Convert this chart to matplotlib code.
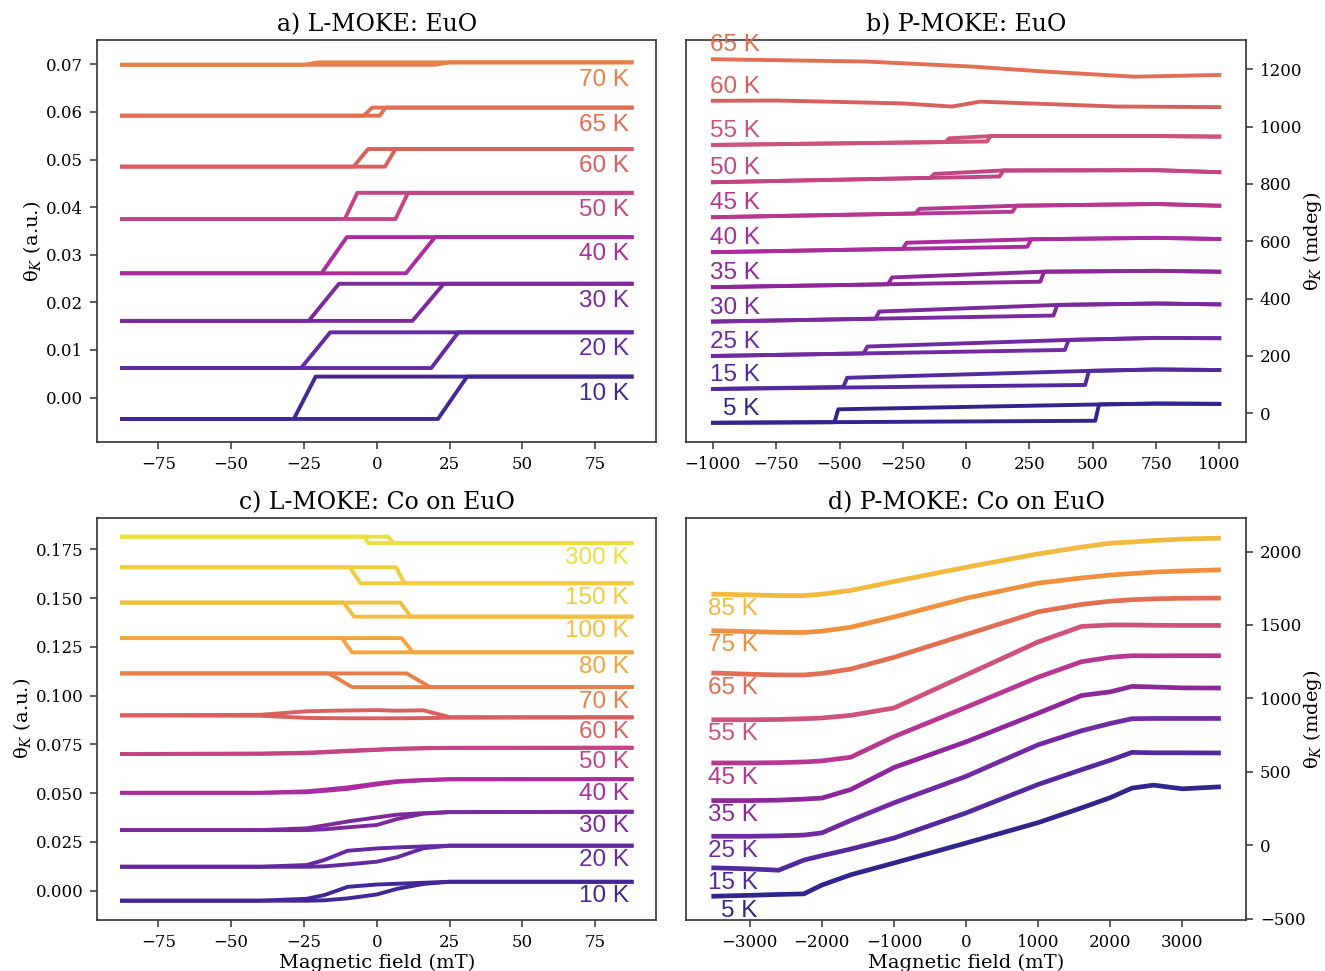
import colorsys
import matplotlib
matplotlib.use('Agg')
import matplotlib.pyplot as plt

plt.rcParams['font.family'] = ['DejaVu Serif']
plt.rcParams['mathtext.fontset'] = 'dejavuserif'
plt.rcParams['axes.edgecolor'] = '#333333'
plt.rcParams['axes.linewidth'] = 1.2

# ---------------- a) L-MOKE: EuO  (square loops) ----------------
a_temps = [10, 20, 30, 40, 50, 60, 65, 70]
a_low = [-0.0045, 0.0062, 0.0161, 0.0261, 0.0375, 0.0485, 0.0592, 0.0699]
a_high = [0.0044, 0.0137, 0.0239, 0.0337, 0.0430, 0.0522, 0.0609, 0.0704]
a_down_start = [-21.0, -16.0, -13.0, -10.3, -6.7, -3.0, -1.6, -20.0]
a_down_end = [-28.5, -26.0, -23.4, -19.0, -11.0, -8.0, -4.5, -25.0]
a_up_start = [21.0, 18.7, 12.2, 10.0, 6.4, 2.8, 1.0, 20.0]
a_up_end = [31.0, 28.0, 23.0, 20.0, 10.7, 6.4, 3.0, 25.0]
a_field_max = 87.5

# ---------------- b) P-MOKE: EuO ----------------
b_temps = [5, 15, 25, 30, 35, 40, 45, 50, 55]
b_low_left = [-33, 85, 200, 320, 440, 562, 684, 806, 936]
b_low_at_up = [-26, 99, 221, 341, 459, 581, 703, 826, 948]
b_hc_up = [510, 470, 390, 345, 293, 242, 183, 132, 82]
b_hc_down = [-505, -470, -390, -343, -293, -235, -185, -126, -67]
b_upper_at_down = [14, 124, 233, 355, 474, 595, 713, 835, 959]
b_lower_at_down = [-31, 92, 209, 330, 450, 574, 697, 821, 946]
b_upper_at_up = [31, 148, 256, 378, 494, 607, 724, 847, 967]
b_at_750 = [34, 153, 263, 383, 497, 612, 730, 848, 967]
b_right = [33, 151, 262, 380, 494, 608, 724, 841, 965]
b_field_max = 1000

b_rev_temps = [60, 65]
b_rev_fields = [[-1000, -750, -255, -56, 56, 593, 1000],
                [-1000, -396, 28, 311, 664, 1000]]
b_rev_values = [[1090, 1091, 1081, 1070, 1087, 1070, 1068],
                [1235, 1227, 1209, 1192, 1174, 1180]]

# ---------------- c) L-MOKE: Co on EuO ----------------
c_grid = [-87.5, -40, -24, -18, -10, 0, 7, 16, 25, 87.5]
c_temps = [10, 20, 30, 40, 50, 60]
c_descending = [
    [-0.0051, -0.0051, -0.0041, -0.0022, 0.0020, 0.0032, 0.0036, 0.0041, 0.0046, 0.0046],
    [0.0123, 0.0123, 0.0132, 0.0158, 0.0205, 0.0217, 0.0222, 0.0227, 0.0231, 0.0231],
    [0.0311, 0.0311, 0.0320, 0.0335, 0.0355, 0.0376, 0.0390, 0.0398, 0.0403, 0.0405],
    [0.0502, 0.0502, 0.0510, 0.0518, 0.0530, 0.0550, 0.0562, 0.0568, 0.0572, 0.0572],
    [0.0701, 0.0703, 0.0708, 0.0712, 0.0718, 0.0724, 0.0728, 0.0731, 0.0733, 0.0733],
    [0.0899, 0.0902, 0.0920, 0.0922, 0.0924, 0.0926, 0.0923, 0.0925, 0.0890, 0.0889],
]
c_ascending = [
    [-0.0051, -0.0051, -0.0051, -0.0049, -0.0039, -0.0019, 0.0010, 0.0035, 0.0046, 0.0046],
    [0.0123, 0.0123, 0.0123, 0.0125, 0.0135, 0.0149, 0.0172, 0.0218, 0.0231, 0.0231],
    [0.0311, 0.0311, 0.0311, 0.0315, 0.0325, 0.0337, 0.0368, 0.0395, 0.0403, 0.0405],
    [0.0502, 0.0502, 0.0505, 0.0512, 0.0522, 0.0545, 0.0558, 0.0566, 0.0571, 0.0572],
    [0.0701, 0.0702, 0.0705, 0.0709, 0.0715, 0.0722, 0.0727, 0.0730, 0.0732, 0.0733],
    [0.0899, 0.0897, 0.0886, 0.0885, 0.0884, 0.0884, 0.0884, 0.0885, 0.0887, 0.0889],
]
c_step_temps = [70, 80, 100, 150, 300]
c_step_high = [0.1114, 0.1295, 0.1477, 0.1658, 0.1815]
c_step_low = [0.1044, 0.1222, 0.1405, 0.1576, 0.1782]
c_fall_start = [10.3, 8.5, 8.1, 6.6, 3.8]
c_fall_end = [18.2, 12.4, 11.7, 9.5, 5.9]
c_rise_start = [-8.5, -8.5, -7.8, -5.6, -3.0]
c_rise_end = [-16.5, -12.0, -11.4, -9.3, -4.2]
c_field_max = 87.5

# ---------------- d) P-MOKE: Co on EuO ----------------
d_grid = [-3500, -3000, -2600, -2250, -2000, -1600, -1000, 0, 1000, 1600, 2000, 2300, 2600, 3000, 3500]
d_temps = [5, 15, 25, 35, 45, 55, 65, 75, 85]
d_values = [
    [-346, -340, -334, -330, -270, -200, -120, 16, 155, 255, 325, 390, 410, 385, 398],
    [-153, -160, -169, -100, -70, -25, 50, 221, 415, 515, 580, 633, 630, 630, 629],
    [62, 62, 65, 70, 85, 170, 290, 470, 685, 780, 830, 862, 864, 864, 864],
    [305, 305, 308, 315, 322, 380, 530, 705, 900, 1020, 1045, 1082, 1078, 1072, 1071],
    [561, 561, 563, 568, 575, 600, 740, 940, 1145, 1250, 1280, 1291, 1290, 1291, 1291],
    [855, 855, 857, 862, 867, 885, 935, 1160, 1385, 1490, 1500, 1500, 1498, 1497, 1497],
    [1173, 1165, 1160, 1160, 1170, 1200, 1280, 1435, 1590, 1640, 1662, 1672, 1678, 1682, 1683],
    [1461, 1455, 1450, 1449, 1458, 1485, 1555, 1682, 1785, 1820, 1840, 1850, 1860, 1868, 1875],
    [1710, 1705, 1700, 1700, 1710, 1735, 1796, 1893, 1984, 2030, 2057, 2065, 2075, 2085, 2091],
]


def temp_color(t):
    # plasma, muted a little like the printed figure
    special = {100: 0.86, 150: 0.9, 300: 0.96}
    r, g, b, _ = plt.cm.plasma(special.get(t, t / 100))
    h, s, v = colorsys.rgb_to_hsv(r, g, b)
    if h > 0.6:
        h = h - 0.025
    return colorsys.hsv_to_rgb(h, min(s, 0.74), v * 0.96)


LW = 2.8
LABEL_FONT = dict(family=['Liberation Sans', 'DejaVu Sans'], fontsize=17.5)


def style_axis(ax, right=False):
    ax.tick_params(direction='out', length=5, width=1.1, color='#333333',
                   labelsize=12, pad=5)
    if right:
        ax.yaxis.tick_right()
        ax.yaxis.set_label_position('right')
        ax.yaxis.set_label_coords(1.098, 0.5)


fig = plt.figure(figsize=(13.25, 9.71), dpi=100)
ax_a = fig.add_axes([0.0734, 0.5445, 0.4220, 0.4143])
ax_b = fig.add_axes([0.5180, 0.5445, 0.4223, 0.4143])
ax_c = fig.add_axes([0.0734, 0.0525, 0.4220, 0.4143])
ax_d = fig.add_axes([0.5180, 0.0525, 0.4223, 0.4143])

# a)
for i, t in enumerate(a_temps):
    col = temp_color(t)
    ax_a.plot([a_field_max, a_down_start[i], a_down_end[i], -a_field_max],
              [a_high[i], a_high[i], a_low[i], a_low[i]], color=col, lw=LW)
    ax_a.plot([-a_field_max, a_up_start[i], a_up_end[i], a_field_max],
              [a_low[i], a_low[i], a_high[i], a_high[i]], color=col, lw=LW)
    ax_a.text(86.5, a_high[i] - 0.0036, f'{t} K', color=col, ha='right',
              va='center', **LABEL_FONT)
ax_a.set_xlim(-96, 96)
ax_a.set_ylim(-0.0094, 0.0751)
ax_a.set_xticks([-75, -50, -25, 0, 25, 50, 75])
ax_a.set_yticks([0.0, 0.01, 0.02, 0.03, 0.04, 0.05, 0.06, 0.07])
ax_a.set_title('a) L-MOKE: EuO', fontsize=17, pad=6)
ax_a.set_ylabel('θ$_K$ (a.u.)', fontsize=14, labelpad=2)
style_axis(ax_a)

# b)
for i, t in enumerate(b_temps):
    col = temp_color(t)
    ax_b.plot([-b_field_max, b_hc_up[i], b_hc_up[i] + 15, 750, b_field_max],
              [b_low_left[i], b_low_at_up[i], b_upper_at_up[i], b_at_750[i], b_right[i]],
              color=col, lw=LW)
    ax_b.plot([b_field_max, 750, b_hc_up[i] + 15, b_hc_down[i], b_hc_down[i] - 15, -b_field_max],
              [b_right[i], b_at_750[i], b_upper_at_up[i], b_upper_at_down[i],
               b_lower_at_down[i], b_low_left[i]], color=col, lw=LW)
    ax_b.text(-815, b_low_left[i] + 48, f'{t} K', color=col, ha='right',
              va='center', **LABEL_FONT)
for t, fx, fy in zip(b_rev_temps, b_rev_fields, b_rev_values):
    col = temp_color(t)
    ax_b.plot(fx, fy, color=col, lw=LW)
    ax_b.text(-815, fy[0] + 48, f'{t} K', color=col, ha='right',
              va='center', **LABEL_FONT)
ax_b.set_xlim(-1105, 1105)
ax_b.set_ylim(-101, 1302)
ax_b.set_xticks([-1000, -750, -500, -250, 0, 250, 500, 750, 1000])
ax_b.set_yticks([0, 200, 400, 600, 800, 1000, 1200])
ax_b.set_title('b) P-MOKE: EuO', fontsize=17, pad=6)
ax_b.set_ylabel('θ$_K$ (mdeg)', fontsize=14)
style_axis(ax_b, right=True)

# c)
for i, t in enumerate(c_temps):
    col = temp_color(t)
    ax_c.plot(c_grid, c_descending[i], color=col, lw=LW)
    ax_c.plot(c_grid, c_ascending[i], color=col, lw=LW)
    ax_c.text(86.5, c_descending[i][-1] - 0.0075, f'{t} K', color=col,
              ha='right', va='center', **LABEL_FONT)
for i, t in enumerate(c_step_temps):
    col = temp_color(t)
    ax_c.plot([-c_field_max, c_fall_start[i], c_fall_end[i], c_field_max],
              [c_step_high[i], c_step_high[i], c_step_low[i], c_step_low[i]],
              color=col, lw=LW)
    ax_c.plot([c_field_max, c_rise_start[i], c_rise_end[i], -c_field_max],
              [c_step_low[i], c_step_low[i], c_step_high[i], c_step_high[i]],
              color=col, lw=LW)
    ax_c.text(86.5, c_step_low[i] - 0.0075, f'{t} K', color=col, ha='right',
              va='center', **LABEL_FONT)
ax_c.set_xlim(-96, 96)
ax_c.set_ylim(-0.0150, 0.1912)
ax_c.set_xticks([-75, -50, -25, 0, 25, 50, 75])
ax_c.set_yticks([0.0, 0.025, 0.05, 0.075, 0.1, 0.125, 0.15, 0.175])
ax_c.set_title('c) L-MOKE: Co on EuO', fontsize=17, pad=6)
ax_c.set_ylabel('θ$_K$ (a.u.)', fontsize=14, labelpad=2)
ax_c.set_xlabel('Magnetic field (mT)', fontsize=14, labelpad=2)
style_axis(ax_c)

# d)
for t, vals in zip(d_temps, d_values):
    col = temp_color(t)
    ax_d.plot(d_grid, vals, color=col, lw=LW + 0.6)
    ax_d.text(-2894, vals[0] - 100, f'{t} K', color=col, ha='right',
              va='center', **LABEL_FONT)
ax_d.set_xlim(-3880, 3880)
ax_d.set_ylim(-508, 2230)
ax_d.set_xticks([-3000, -2000, -1000, 0, 1000, 2000, 3000])
ax_d.set_yticks([-500, 0, 500, 1000, 1500, 2000])
ax_d.set_title('d) P-MOKE: Co on EuO', fontsize=17, pad=6)
ax_d.set_ylabel('θ$_K$ (mdeg)', fontsize=14)
ax_d.set_xlabel('Magnetic field (mT)', fontsize=14, labelpad=2)
style_axis(ax_d, right=True)

fig.savefig('out.png', dpi=100)
